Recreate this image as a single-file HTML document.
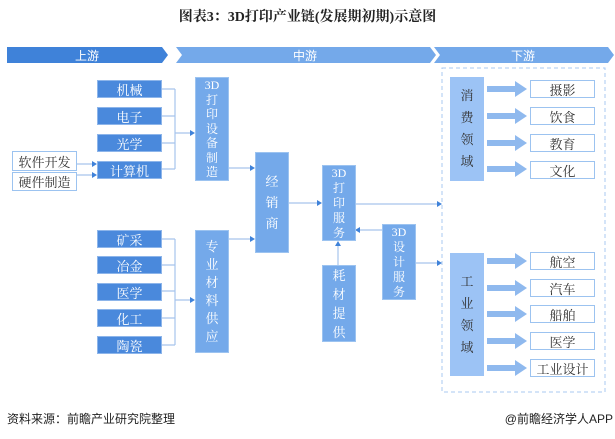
<!DOCTYPE html>
<html><head><meta charset="utf-8"><style>
body{margin:0;width:615px;height:439px;background:#fff;position:relative;overflow:hidden;font-family:"Liberation Serif","Noto Serif CJK SC",serif}
.b{position:absolute;display:flex;align-items:center;justify-content:center;color:#fff;font-size:13px;box-sizing:border-box}
.d{background:#4a89dc;border:1px solid #8db5ea}
.m{background:#74a9ea;border:1px solid #9cc3f0;flex-direction:column;line-height:19px;text-align:center;width:34px}
.w{background:#fff;border:1.5px solid #9cc3f0;color:#333}
.lc{background:#9cc3f5;flex-direction:column;color:#333;line-height:22px;width:34px}
</style></head><body>
<div style="position:absolute;left:0;width:615px;top:6px;text-align:center;font-weight:bold;font-size:14px;color:#222">图表3：3D打印产业链(发展期初期)示意图</div>
<svg width="615" height="439" style="position:absolute;left:0;top:0">
<polygon points="7,47 162,47 168,55 162,63 7,63" fill="#3f82d9"/>
<polygon points="176,47 430,47 436,55 430,63 176,63 182,55" fill="#74a9ea"/>
<polygon points="434,47 608,47 614,55 608,63 434,63 440,55" fill="#74a9ea"/>
<text x="87" y="60" fill="#fff" font-size="12" text-anchor="middle" font-family="Liberation Sans,Noto Sans CJK SC,sans-serif">上游</text>
<text x="305" y="60" fill="#fff" font-size="12" text-anchor="middle" font-family="Liberation Sans,Noto Sans CJK SC,sans-serif">中游</text>
<text x="523" y="60" fill="#fff" font-size="12" text-anchor="middle" font-family="Liberation Sans,Noto Sans CJK SC,sans-serif">下游</text>
<rect x="442" y="68" width="163" height="324" fill="none" stroke="#a9c8f0" stroke-dasharray="4,3"/>
<g stroke="#a6c4ec" stroke-width="1.2" fill="none">
<path d="M162,89H175M162,116H175M162,143H175M162,169H175M175,89V169M175,133H193"/>
<path d="M162,239H175M162,265H175M162,291H175M162,318H175M162,345H175M175,239V345M175,300H193"/>
<path d="M77,164H95M77,175H95"/>
<path d="M228,168H253M228,239H253M289,203H320M355,204H440M415,263H440M382,230H357M338,265V243"/>
</g>
<g fill="#3f82d9">
<polygon points="195,133 190,130 190,136"/><polygon points="195,300 190,297 190,303"/>
<polygon points="97,164 92,161 92,167"/><polygon points="97,175 92,172 92,178"/>
<polygon points="255,168 250,165 250,171"/><polygon points="255,239 250,236 250,242"/>
<polygon points="322,203 317,200 317,206"/><polygon points="442,204 437,201 437,207"/>
<polygon points="442,263 437,260 437,266"/><polygon points="355,230 360,227 360,233"/>
<polygon points="338,241 335,246 341,246"/>
</g>
<g fill="#8fb9ee">
<polygon points="487,86 515,86 515,81 527,89 515,97 515,92 487,92"/>
<polygon points="487,113 515,113 515,108 527,116 515,124 515,119 487,119"/>
<polygon points="487,140 515,140 515,135 527,143 515,151 515,146 487,146"/>
<polygon points="487,166 515,166 515,161 527,169 515,177 515,172 487,172"/>
<polygon points="487,258 515,258 515,253 527,261 515,269 515,264 487,264"/>
<polygon points="487,285 515,285 515,280 527,288 515,296 515,291 487,291"/>
<polygon points="487,311 515,311 515,306 527,314 515,322 515,317 487,317"/>
<polygon points="487,338 515,338 515,333 527,341 515,349 515,344 487,344"/>
<polygon points="487,365 515,365 515,360 527,368 515,376 515,371 487,371"/>
</g>
</svg>
<div class="b d" style="left:97px;top:80px;width:65px;height:18px">机械</div>
<div class="b d" style="left:97px;top:107px;width:65px;height:18px">电子</div>
<div class="b d" style="left:97px;top:134px;width:65px;height:18px">光学</div>
<div class="b d" style="left:97px;top:161px;width:65px;height:18px">计算机</div>
<div class="b d" style="left:97px;top:230px;width:65px;height:18px">矿采</div>
<div class="b d" style="left:97px;top:256px;width:65px;height:18px">冶金</div>
<div class="b d" style="left:97px;top:283px;width:65px;height:18px">医学</div>
<div class="b d" style="left:97px;top:309px;width:65px;height:18px">化工</div>
<div class="b d" style="left:97px;top:336px;width:65px;height:18px">陶瓷</div>
<div class="b w" style="left:12px;top:151px;width:65px;height:20px">软件开发</div>
<div class="b w" style="left:12px;top:172px;width:65px;height:19px">硬件制造</div>
<div class="b m" style="left:195px;top:77px;height:104px;font-size:12px;line-height:14.5px">3D<br>打<br>印<br>设<br>备<br>制<br>造</div>
<div class="b m" style="left:195px;top:230px;height:123px;line-height:18px">专<br>业<br>材<br>料<br>供<br>应</div>
<div class="b m" style="left:255px;top:152px;height:101px;line-height:21px">经<br>销<br>商</div>
<div class="b m" style="left:322px;top:165px;height:76px;line-height:15px;font-size:12px">3D<br>打<br>印<br>服<br>务</div>
<div class="b m" style="left:382px;top:224px;height:76px;line-height:15px;font-size:12px">3D<br>设<br>计<br>服<br>务</div>
<div class="b m" style="left:322px;top:265px;height:77px;line-height:19px">耗<br>材<br>提<br>供</div>
<div class="b lc" style="left:450px;top:77px;height:104px">消<br>费<br>领<br>域</div>
<div class="b lc" style="left:450px;top:253px;height:123px">工<br>业<br>领<br>域</div>
<div class="b w" style="left:530px;top:80px;width:65px;height:18px">摄影</div>
<div class="b w" style="left:530px;top:107px;width:65px;height:18px">饮食</div>
<div class="b w" style="left:530px;top:134px;width:65px;height:18px">教育</div>
<div class="b w" style="left:530px;top:161px;width:65px;height:18px">文化</div>
<div class="b w" style="left:530px;top:252px;width:65px;height:18px">航空</div>
<div class="b w" style="left:530px;top:279px;width:65px;height:18px">汽车</div>
<div class="b w" style="left:530px;top:305px;width:65px;height:18px">船舶</div>
<div class="b w" style="left:530px;top:332px;width:65px;height:18px">医学</div>
<div class="b w" style="left:530px;top:359px;width:65px;height:18px">工业设计</div>
<div style="position:absolute;left:7px;top:410px;font-size:12px;color:#222;font-family:'Liberation Sans','Noto Sans CJK SC',sans-serif">资料来源：前瞻产业研究院整理</div>
<div style="position:absolute;right:2px;top:410px;font-size:12px;color:#222;font-family:'Liberation Sans','Noto Sans CJK SC',sans-serif">@前瞻经济学人APP</div>
</body></html>
